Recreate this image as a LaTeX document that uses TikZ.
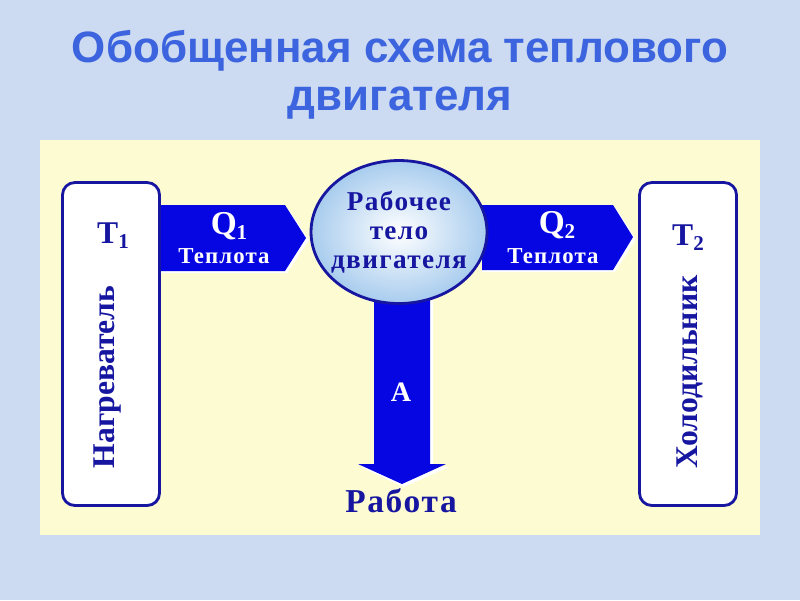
\documentclass[tikz,border=0pt]{standalone}
\usepackage{fontspec}
\setmainfont{Liberation Serif}
\newfontfamily\titlefont{Liberation Sans}
\newfontfamily\widefont[LetterSpace=5]{Liberation Serif}
\usetikzlibrary{positioning,shapes.geometric}

\definecolor{bgblue}{RGB}{204,218,242}
\definecolor{paneyellow}{RGB}{253,251,210}
\definecolor{titleblue}{RGB}{60,100,222}
\definecolor{inkblue}{RGB}{22,22,160}
\definecolor{arrowblue}{RGB}{6,6,226}
\definecolor{glassblue}{RGB}{168,204,238}

\tikzset{
  heading/.style={text=titleblue, font=\titlefont\bfseries\fontsize{25}{28}\selectfont},
  tank/.style={draw=inkblue, line width=1.6pt, rounded corners=7pt, fill=white,
    minimum width=1.94cm, minimum height=6.46cm, inner sep=0pt},
  inklabel/.style={text=inkblue, font=\widefont\bfseries\fontsize{18}{20}\selectfont},
  sidelabel/.style={text=inkblue, rotate=90, font=\bfseries\fontsize{18}{20}\selectfont},
  flowlabel/.style={text=white, font=\widefont\bfseries\fontsize{13}{15}\selectfont},
  blockarrow/.style={fill=arrowblue},
  arrowshade/.style={fill=white}
}
\newcommand{\lowsub}[1]{\raisebox{-0.35ex}{\fontsize{12}{12}\selectfont #1}}

\begin{document}
\begin{tikzpicture}[x=0.02cm, y=-0.02cm]
  % background and yellow panel
  \fill[bgblue] (0,0) rectangle (800,600);
  \useasboundingbox (0,0) rectangle (800,600);
  \fill[paneyellow] (40,140) rectangle (760,535);

  % title
  \node[heading] (title1) at (400,51) {Обобщенная схема теплового};
  \node[heading] (title2) at (400,103) {двигателя};

  % heat flow arrows (behind the boxes)
  \fill[arrowshade] (160,207) -- (287,207) -- (309,240) -- (287,273) -- (160,273) -- cycle;
  \fill[blockarrow] (160,205) -- (285,205) -- (306,238) -- (285,271) -- (160,271) -- cycle;
  \fill[arrowshade] (482,207) -- (615,207) -- (636,239) -- (615,272) -- (482,272) -- cycle;
  \fill[blockarrow] (482,205) -- (613,205) -- (633,237) -- (613,270) -- (482,270) -- cycle;

  % work arrow
  \fill[arrowshade] (377,290) -- (433,290) -- (433,467) -- (449,467) -- (404,487) -- (361,467) -- (377,467) -- cycle;
  \fill[blockarrow] (374,290) -- (430,290) -- (430,464) -- (446,464) -- (402,484) -- (358,464) -- (374,464) -- cycle;

  % heater (left)
  \node[tank] (heater) at (111,344) {};
  \node[inklabel] (t1) at (113,236) {Т\lowsub{1}};
  \node[sidelabel] (heatername) at (108,377) {Нагреватель};

  % cooler (right)
  \node[tank] (cooler) at (688,344) {};
  \node[inklabel] (t2) at (688,238) {Т\lowsub{2}};
  \node[sidelabel] (coolername) at (690,372) {Холодильник};

  % working body
  \node[ellipse, draw=inkblue, line width=1.6pt, minimum width=3.52cm, minimum height=2.86cm,
    inner color=white, outer color=glassblue] (body) at (399,232) {};
  \node[inklabel, align=center, font=\widefont\bfseries\fontsize{15.5}{16.5}\selectfont] (bodyname) at (body)
    {Рабочее\\тело\\двигателя};

  % labels on the arrows
  \node[flowlabel, font=\bfseries\fontsize{19}{20}\selectfont] (q1) at (229,226) {Q\lowsub{1}};
  \node[flowlabel] (heat1) at (224,256) {Теплота};
  \node[flowlabel, font=\bfseries\fontsize{19}{20}\selectfont] (q2) at (557,225) {Q\lowsub{2}};
  \node[flowlabel] (heat2) at (553,256) {Теплота};
  \node[flowlabel, font=\bfseries\fontsize{16}{18}\selectfont] (work) at (401,392) {А};
  \node[inklabel, font=\widefont\bfseries\fontsize{19}{21}\selectfont] (workname) at (401,501) {Работа};
\end{tikzpicture}
\end{document}
